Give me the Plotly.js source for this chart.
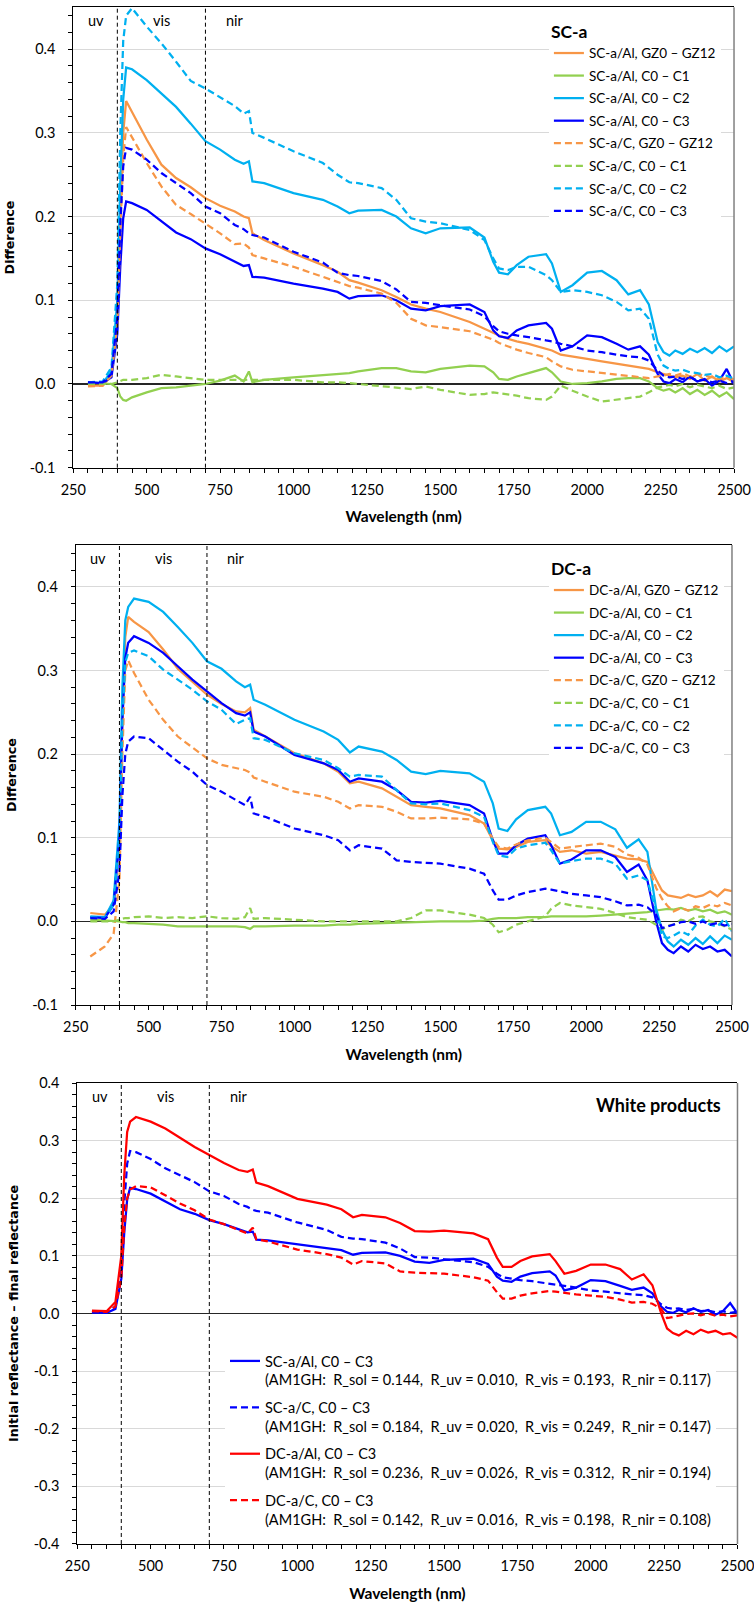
<!DOCTYPE html>
<html><head><meta charset="utf-8">
<script src="https://cdn.plot.ly/plotly-3.0.1.min.js"></script>
<style>html,body{margin:0;padding:0;background:#fff}</style>
</head><body>
<div id="chart" style="width:754px;height:1604px"></div>
<script>
// Wavelength grid (nm)
const WL = [300,350,380,400,410,420,430,450,
  500,550,600,650,700,750,800,
  830,848,860,900,
  1000,1100,1150,1190,1220,
  1300,1350,1400,1450,1500,
  1600,1650,1680,1700,1730,1760,
  1800,1860,1880,1910,1950,
  2000,2050,2100,2140,2180,2210,
  2240,2260,2280,2300,
  2325,2350,2375,2400,2425,2450,2475,2500];

// ---- SC-a panel ----
const SCA_AL_GZ = [-0.002,-0.002,0.010,0.080,0.200,0.300,0.338,0.325,
  0.292,0.262,0.246,0.235,0.222,0.213,0.206,
  0.200,0.198,0.180,0.172,
  0.156,0.142,0.134,0.124,0.121,
  0.112,0.104,0.095,0.090,0.086,
  0.074,0.066,0.061,0.058,0.054,0.051,
  0.048,0.042,0.040,0.035,0.033,
  0.030,0.027,0.024,0.022,0.020,0.018,
  0.014,0.012,0.010,0.008,
  0.010,0.006,0.012,0.004,0.009,0.003,0.007,0.002];
const SCA_AL_C1 = [0.002,0.001,0.000,-0.005,-0.015,-0.019,-0.020,-0.016,
  -0.010,-0.005,-0.004,-0.002,0.000,0.004,0.010,
  0.003,0.015,0.002,0.005,
  0.008,0.011,0.012,0.013,0.015,
  0.019,0.019,0.015,0.014,0.018,
  0.022,0.021,0.014,0.006,0.005,0.009,
  0.013,0.019,0.014,0.003,0.000,
  0.001,0.003,0.006,0.007,0.007,0.003,
  -0.005,-0.008,-0.006,-0.010,
  -0.005,-0.012,-0.007,-0.013,-0.008,-0.015,-0.010,-0.018];
const SCA_AL_C2 = [0.002,0.001,0.015,0.100,0.240,0.340,0.378,0.376,
  0.363,0.347,0.331,0.311,0.290,0.280,0.268,
  0.263,0.266,0.242,0.240,
  0.228,0.220,0.212,0.204,0.207,
  0.208,0.200,0.186,0.180,0.186,
  0.187,0.175,0.146,0.133,0.131,0.142,
  0.152,0.155,0.144,0.110,0.118,
  0.133,0.135,0.124,0.107,0.112,0.095,
  0.050,0.038,0.034,0.040,
  0.036,0.042,0.038,0.043,0.037,0.045,0.039,0.045];
const SCA_AL_C3 = [0.002,0.001,0.008,0.060,0.140,0.198,0.218,0.216,
  0.208,0.195,0.181,0.173,0.162,0.155,0.146,
  0.141,0.142,0.128,0.127,
  0.120,0.114,0.110,0.102,0.105,
  0.106,0.100,0.090,0.088,0.093,
  0.095,0.086,0.064,0.057,0.055,0.064,
  0.070,0.073,0.066,0.040,0.045,
  0.058,0.056,0.048,0.041,0.045,0.035,
  0.012,0.003,0.001,0.006,
  0.002,0.009,0.003,0.006,-0.002,0.004,0.018,0.000];
const SCA_C_GZ = [-0.003,-0.002,0.010,0.070,0.180,0.270,0.307,0.295,
  0.264,0.236,0.214,0.203,0.192,0.180,0.167,
  0.168,0.163,0.154,0.150,
  0.140,0.128,0.122,0.117,0.115,
  0.108,0.097,0.078,0.070,0.068,
  0.063,0.057,0.053,0.049,0.045,0.041,
  0.037,0.032,0.027,0.021,0.017,
  0.015,0.013,0.011,0.009,0.008,0.007,
  0.009,0.010,0.012,0.010,
  0.013,0.009,0.012,0.010,0.008,0.006,0.009,0.005];
const SCA_C_C1 = [0.000,0.000,0.000,0.002,0.004,0.005,0.005,0.005,
  0.007,0.011,0.009,0.007,0.005,0.005,0.005,
  0.004,0.006,0.005,0.005,
  0.005,0.002,0.002,0.001,0.000,
  -0.003,-0.005,-0.006,-0.003,-0.007,
  -0.013,-0.012,-0.010,-0.011,-0.012,-0.014,
  -0.017,-0.019,-0.015,-0.002,-0.008,
  -0.015,-0.021,-0.019,-0.017,-0.015,-0.010,
  -0.004,-0.003,-0.001,-0.003,
  0.000,-0.004,-0.001,-0.003,-0.005,-0.002,-0.006,-0.004];
const SCA_C_C2 = [0.002,0.003,0.020,0.120,0.300,0.410,0.440,0.449,
  0.427,0.407,0.385,0.362,0.353,0.342,0.332,
  0.323,0.326,0.300,0.294,
  0.278,0.264,0.250,0.241,0.240,
  0.234,0.220,0.198,0.194,0.192,
  0.184,0.172,0.150,0.138,0.136,0.140,
  0.140,0.130,0.124,0.110,0.112,
  0.110,0.106,0.098,0.088,0.090,0.078,
  0.035,0.022,0.018,0.016,
  0.017,0.014,0.013,0.011,0.012,0.008,0.010,0.006];
const SCA_C_C3 = [0.002,0.002,0.012,0.080,0.190,0.260,0.282,0.280,
  0.268,0.252,0.240,0.228,0.212,0.204,0.190,
  0.185,0.180,0.178,0.175,
  0.158,0.145,0.133,0.130,0.129,
  0.123,0.113,0.098,0.097,0.094,
  0.089,0.081,0.069,0.063,0.060,0.058,
  0.056,0.052,0.051,0.048,0.045,
  0.040,0.038,0.035,0.033,0.032,0.028,
  0.016,0.010,0.008,0.009,
  0.006,0.008,0.004,0.005,0.002,0.004,0.001,0.003];

// ---- DC-a panel ----
const DCA_AL_GZ = [0.010,0.008,0.020,0.100,0.240,0.340,0.364,0.358,
  0.346,0.325,0.302,0.286,0.271,0.260,0.251,
  0.250,0.255,0.229,0.221,
  0.201,0.189,0.179,0.165,0.167,
  0.159,0.149,0.139,0.137,0.135,
  0.127,0.117,0.097,0.087,0.086,0.089,
  0.095,0.097,0.090,0.083,0.085,
  0.081,0.083,0.079,0.075,0.074,0.071,
  0.050,0.037,0.031,0.030,
  0.028,0.032,0.029,0.031,0.036,0.030,0.038,0.036];
const DCA_AL_C1 = [0.002,0.001,0.001,0.000,-0.001,-0.001,-0.002,-0.002,
  -0.003,-0.004,-0.006,-0.006,-0.006,-0.006,-0.006,
  -0.007,-0.009,-0.006,-0.006,
  -0.005,-0.005,-0.004,-0.004,-0.003,
  -0.002,-0.002,-0.001,-0.001,0.000,
  0.000,0.001,0.003,0.004,0.004,0.004,
  0.005,0.005,0.006,0.006,0.006,
  0.006,0.007,0.008,0.009,0.010,0.011,
  0.013,0.014,0.015,0.014,
  0.016,0.013,0.015,0.012,0.014,0.010,0.012,0.008];
const DCA_AL_C2 = [0.006,0.005,0.025,0.120,0.280,0.360,0.376,0.386,
  0.382,0.370,0.352,0.333,0.311,0.302,0.287,
  0.280,0.283,0.265,0.259,
  0.241,0.227,0.217,0.202,0.209,
  0.203,0.193,0.179,0.176,0.180,
  0.177,0.167,0.141,0.111,0.108,0.122,
  0.133,0.137,0.129,0.103,0.107,
  0.119,0.119,0.110,0.088,0.098,0.083,
  0.015,-0.010,-0.024,-0.030,
  -0.022,-0.028,-0.020,-0.027,-0.018,-0.026,-0.017,-0.022];
const DCA_AL_C3 = [0.005,0.004,0.020,0.100,0.240,0.315,0.333,0.341,
  0.333,0.321,0.305,0.289,0.275,0.261,0.249,
  0.246,0.250,0.227,0.221,
  0.199,0.189,0.181,0.167,0.171,
  0.167,0.157,0.143,0.142,0.144,
  0.139,0.129,0.097,0.081,0.081,0.091,
  0.099,0.103,0.091,0.069,0.074,
  0.085,0.085,0.077,0.059,0.068,0.049,
  0.000,-0.026,-0.034,-0.038,
  -0.030,-0.036,-0.028,-0.033,-0.030,-0.036,-0.034,-0.042];
const DCA_C_GZ = [-0.042,-0.030,-0.015,0.050,0.200,0.300,0.312,0.297,
  0.265,0.241,0.221,0.208,0.195,0.187,0.183,
  0.181,0.178,0.172,0.167,
  0.155,0.149,0.143,0.135,0.139,
  0.137,0.131,0.123,0.123,0.124,
  0.122,0.117,0.099,0.089,0.087,0.092,
  0.097,0.100,0.095,0.087,0.089,
  0.091,0.093,0.089,0.080,0.076,0.068,
  0.040,0.027,0.018,0.012,
  0.016,0.013,0.018,0.016,0.020,0.018,0.022,0.019];
const DCA_C_C1 = [0.000,0.000,0.000,0.002,0.003,0.004,0.004,0.005,
  0.006,0.004,0.005,0.004,0.006,0.004,0.003,
  0.005,0.016,0.003,0.004,
  0.002,0.000,0.000,0.000,0.000,
  0.000,0.000,0.004,0.013,0.013,
  0.008,0.004,-0.004,-0.013,-0.010,-0.004,
  0.000,0.006,0.015,0.022,0.019,
  0.017,0.015,0.010,0.005,0.003,0.002,
  -0.004,-0.010,-0.005,-0.004,
  0.002,0.000,0.005,0.006,0.000,-0.002,-0.006,-0.010];
const DCA_C_C2 = [0.005,0.004,0.020,0.100,0.240,0.310,0.321,0.324,
  0.317,0.301,0.289,0.277,0.263,0.253,0.236,
  0.241,0.243,0.219,0.217,
  0.201,0.193,0.183,0.173,0.175,
  0.173,0.157,0.141,0.140,0.141,
  0.133,0.125,0.095,0.079,0.077,0.087,
  0.091,0.094,0.085,0.069,0.072,
  0.075,0.075,0.069,0.051,0.055,0.049,
  0.012,-0.018,-0.020,-0.017,
  -0.012,-0.016,-0.005,0.002,-0.004,-0.006,0.003,-0.012];
const DCA_C_C3 = [0.004,0.003,0.012,0.060,0.150,0.200,0.215,0.221,
  0.219,0.205,0.191,0.179,0.163,0.155,0.145,
  0.139,0.149,0.129,0.125,
  0.111,0.103,0.097,0.085,0.091,
  0.087,0.073,0.071,0.070,0.069,
  0.063,0.057,0.037,0.026,0.026,0.031,
  0.035,0.039,0.038,0.036,0.033,
  0.031,0.029,0.024,0.019,0.020,0.017,
  0.008,-0.008,-0.006,-0.004,
  -0.001,0.000,-0.003,0.000,-0.004,-0.002,-0.005,-0.003];

// ---- labels ----
const SC_NAMES = ['SC-a/Al, GZ0 – GZ12','SC-a/Al, C0 – C1','SC-a/Al, C0 – C2','SC-a/Al, C0 – C3',
  'SC-a/C, GZ0 – GZ12','SC-a/C, C0 – C1','SC-a/C, C0 – C2','SC-a/C, C0 – C3'];
const DC_NAMES = ['DC-a/Al, GZ0 – GZ12','DC-a/Al, C0 – C1','DC-a/Al, C0 – C2','DC-a/Al, C0 – C3',
  'DC-a/C, GZ0 – GZ12','DC-a/C, C0 – C1','DC-a/C, C0 – C2','DC-a/C, C0 – C3'];
const WHITE_NAMES = ['SC-a/Al, C0 – C3','SC-a/C, C0 – C3','DC-a/Al, C0 – C3','DC-a/C, C0 – C3'];
const R_SOL = ['0.144','0.184','0.236','0.142'];
const R_UV  = ['0.010','0.020','0.026','0.016'];
const R_VIS = ['0.193','0.249','0.312','0.198'];
const R_NIR = ['0.117','0.147','0.194','0.108'];
const BAND_EDGES = [400, 700];
const BAND_LABELS = ['uv','vis','nir'];
const BAND_LABEL_X = [327, 550, 801];
const X_TICKS = [250,500,750,1000,1250,1500,1750,2000,2250,2500];
const X_TICKTEXT = ['250','500','750','1000','1250','1500','1750','2000','2250','2500'];
const Y12_TICKS = [-0.1,0,0.1,0.2,0.3,0.4];
const Y12_TICKTEXT = ['-0.1','0.0','0.1','0.2','0.3','0.4'];
const Y3_TICKS = [-0.4,-0.3,-0.2,-0.1,0,0.1,0.2,0.3,0.4];
const Y3_TICKTEXT = ['-0.4','-0.3','-0.2','-0.1','0.0','0.1','0.2','0.3','0.4'];

const ORANGE = '#F79646', GREEN = '#92D050', LBLUE = '#00B0F0', BLUE = '#0000FF', RED = '#FF0000';
const DASH = '7px,4px';

function tr(y, name, color, dashed, xa, ya, leg, grp) {
  return {type:'scatter', mode:'lines', x: WL, y: y, name: name,
    line:{color: color, width: 2.25, dash: dashed ? DASH : 'solid'},
    xaxis: xa, yaxis: ya, legend: leg, legendgroup: grp, hoverinfo:'skip'};
}

const scData = [SCA_AL_GZ, SCA_AL_C1, SCA_AL_C2, SCA_AL_C3, SCA_C_GZ, SCA_C_C1, SCA_C_C2, SCA_C_C3];
const dcData = [DCA_AL_GZ, DCA_AL_C1, DCA_AL_C2, DCA_AL_C3, DCA_C_GZ, DCA_C_C1, DCA_C_C2, DCA_C_C3];
const colors8 = [ORANGE, GREEN, LBLUE, BLUE, ORANGE, GREEN, LBLUE, BLUE];

const traces = [];
scData.forEach((y, i) => traces.push(tr(y, SC_NAMES[i], colors8[i], i >= 4, 'x', 'y', 'legend', 'sc' + i)));
dcData.forEach((y, i) => traces.push(tr(y, DC_NAMES[i], colors8[i], i >= 4, 'x2', 'y2', 'legend2', 'dc' + i)));
const whiteData = [SCA_AL_C3, SCA_C_C3, DCA_AL_C3, DCA_C_C3];
const whiteColors = [BLUE, BLUE, RED, RED];
whiteData.forEach((y, i) => {
  const nm = WHITE_NAMES[i] + '<br>(AM1GH:\u00a0 R_sol = ' + R_SOL[i] + ',\u00a0 R_uv = ' + R_UV[i] +
    ',\u00a0 R_vis = ' + R_VIS[i] + ',\u00a0 R_nir = ' + R_NIR[i] + ')';
  traces.push(tr(y, nm, whiteColors[i], i % 2 === 1, 'x3', 'y3', 'legend3', 'w' + i));
});

const TICKFONT = {family:'Lato, sans-serif', size:14.5, color:'#000'};

function xAxis(domain, anchor) {
  return {domain: domain, anchor: anchor, range:[250,2500], tickmode:'array',
    tickvals: X_TICKS, ticktext: X_TICKTEXT, ticks:'outside', ticklen:4, tickcolor:'#000', tickwidth:1,
    showline:true, linecolor:'#000', linewidth:1, mirror:true, showgrid:false, zeroline:false,
    minor:{tickmode:'linear', tick0:250, dtick:50, ticks:'outside', ticklen:4, tickcolor:'#000', showgrid:false},
    tickfont: TICKFONT, ticklabelstandoff: 5, ticklabeloverflow:'allow', automargin:false,
    title:{text:'<b>Wavelength (nm)</b>', font:{family:'Lato, sans-serif', size:15.5, color:'#000'}, standoff:14}};
}
function yAxis(domain, anchor, range, tv, tt, title) {
  return {domain: domain, anchor: anchor, range: range, tickmode:'array', tickvals: tv, ticktext: tt,
    ticks:'outside', ticklen:4, tickcolor:'#000', tickwidth:1,
    showline:true, linecolor:'#000', linewidth:1, mirror:false,
    showgrid:true, gridcolor:'#D9D9D9', gridwidth:1,
    zeroline:true, zerolinecolor:'#262626', zerolinewidth:1.5,
    minor:{tickmode:'linear', tick0:0, dtick:0.02, ticks:'outside', ticklen:4, tickcolor:'#000', showgrid:false},
    tickfont: TICKFONT, ticklabelstandoff: 10, ticklabeloverflow:'allow', automargin:false,
    title:{text:'<b>' + title + '</b>', font:{family:'DejaVu Sans, sans-serif', size:12.7, color:'#000'}, standoff:12}};
}

const panels = [
  {xa:'x', ya:'y'}, {xa:'x2', ya:'y2'}, {xa:'x3', ya:'y3'}
];
const shapes = [];
const annotations = [];
panels.forEach(p => {
  BAND_EDGES.forEach(b => shapes.push({type:'line', xref:p.xa, x0:b, x1:b, yref:p.ya + ' domain', y0:0, y1:1,
    line:{color:'#000', width:1, dash:'4px,3px'}}));
  shapes.push({type:'line', xref:p.xa + ' domain', x0:1, x1:1, yref:p.ya + ' domain', y0:0, y1:1,
    line:{color:'#808080', width:1.5}});
  BAND_LABELS.forEach((t, i) => annotations.push({text:t, xref:p.xa, x:BAND_LABEL_X[i], yref:p.ya + ' domain', y:1,
    yshift:-13.5, yanchor:'middle', xanchor:'center', showarrow:false, font:{family:'Lato, sans-serif', size:14.5, color:'#000'}}));
});
annotations.push({text:'<b>White products</b>', xref:'x3 domain', x:0.978, xanchor:'right', yref:'y3 domain', y:1,
  yshift:-22, yanchor:'middle', showarrow:false, font:{family:'Lato, sans-serif', size:18, color:'#000'}});

const legendBase = {xanchor:'left', yanchor:'top', bgcolor:'#FFFFFF', borderwidth:0,
  font:{family:'Lato, sans-serif', size:13.5, color:'#000'}, traceorder:'grouped', tracegroupgap:2, itemclick:false};

const layout = {
  width:754, height:1604, margin:{l:0, r:0, t:0, b:0},
  paper_bgcolor:'#FFFFFF', plot_bgcolor:'#FFFFFF', showlegend:true,
  font:{family:'Lato, sans-serif', size:14, color:'#000'},
  xaxis: xAxis([0.0972, 0.9735], 'y'),
  yaxis: yAxis([0.70842, 0.99545], 'x', [-0.1, 0.45], Y12_TICKS, Y12_TICKTEXT, 'Difference'),
  xaxis2: xAxis([0.1004, 0.9708], 'y2'),
  yaxis2: yAxis([0.37344, 0.66022], 'x2', [-0.1, 0.45], Y12_TICKS, Y12_TICKTEXT, 'Difference'),
  xaxis3: xAxis([0.1025, 0.9781], 'y3'),
  yaxis3: yAxis([0.03741, 0.32481], 'x3', [-0.4, 0.4], Y3_TICKS, Y3_TICKTEXT, 'Initial reflectance – final reflectance'),
  legend: Object.assign({}, legendBase, {x: 0.728, y: 1 - 15/1604, title:{text:'<b>SC-a</b>', font:{family:'Lato, sans-serif', size:17.5}}}),
  legend2: Object.assign({}, legendBase, {x: 0.728, y: 1 - 552/1604, title:{text:'<b>DC-a</b>', font:{family:'Lato, sans-serif', size:17.5}}}),
  legend3: Object.assign({}, legendBase, {x: 0.2984, y: 1 - 1345/1604, valign:'top', tracegroupgap:5.7,
    font:{family:'Lato, sans-serif', size:14.5, color:'#000'}}),
  shapes: shapes,
  annotations: annotations
};

Plotly.newPlot('chart', traces, layout, {staticPlot:true, displayModeBar:false});
</script>
</body></html>
